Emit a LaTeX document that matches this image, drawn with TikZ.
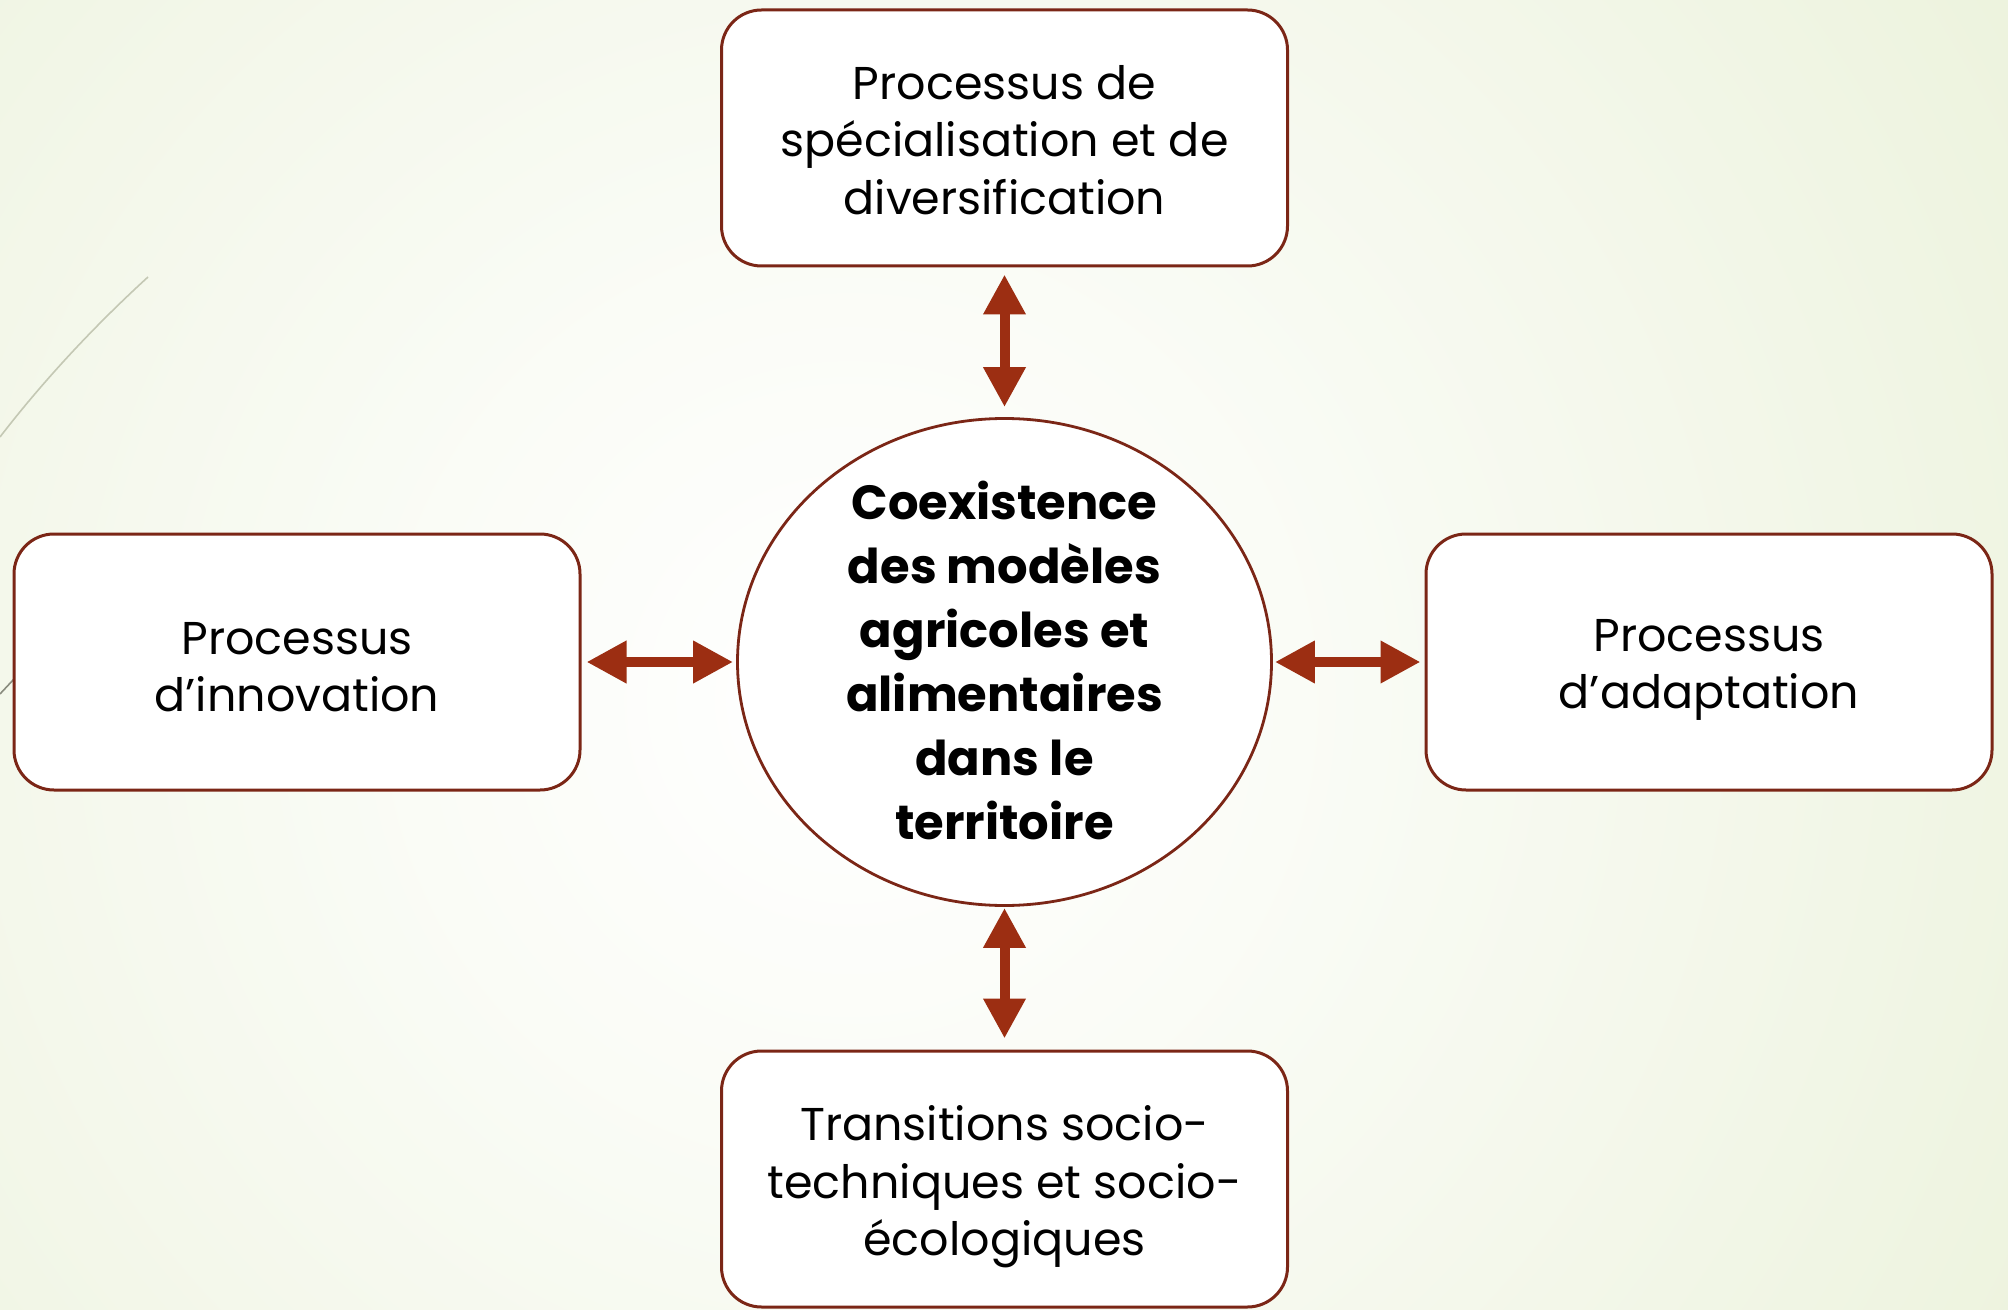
\documentclass[tikz,border=0pt]{standalone}
\usepackage{fontspec}
\setmainfont{Poppins}
\usetikzlibrary{shapes.geometric,arrows.meta}
\definecolor{bgg}{RGB}{222,233,195}
\definecolor{boxline}{RGB}{123,38,22}
\definecolor{arrowc}{RGB}{156,46,18}
\definecolor{deco}{RGB}{196,200,180}
\pgfdeclareradialshading{bgshade}{\pgfpoint{0bp}{0bp}}{color(0bp)=(white); color(8bp)=(white!85!bgg); color(30bp)=(white!30!bgg); color(50bp)=(bgg)}
\tikzset{
  procbox/.style={draw=boxline, line width=1.5pt, fill=white, rounded corners=20pt,
    minimum width=283pt, minimum height=128pt, inner sep=0pt},
  proctext/.style={align=center, inner sep=0pt, font=\fontsize{23}{28.8}\selectfont},
  centre/.style={draw=boxline, line width=1.4pt, fill=white, ellipse,
    minimum width=267pt, minimum height=243.5pt, inner sep=0pt},
  centretext/.style={align=center, inner sep=0pt,
    font=\fontsize{24}{32}\selectfont\bfseries},
  link/.style={draw=arrowc, line width=5pt, {Triangle[length=20pt,width=20pt]}-{Triangle[length=20pt,width=20pt]}}
}
\begin{document}
\begin{tikzpicture}[x=0.5pt,y=-0.5pt]
\useasboundingbox (0,0) rectangle (2008,1310);
\begin{scope}
\clip (0,0) rectangle (2008,1310);
\shade[shading=bgshade] (850,700) circle (1400);
\draw[deco, line width=0.8pt] (148,277) .. controls (90,330) and (40,385) .. (0,437);
\draw[deco!70!black, line width=0.8pt] (14,679) -- (0,694);
\end{scope}
\node[procbox] (top) at (1004.5,138) {};
\node[proctext] (toptext) at (1004.5,140) {Processus de\\spécialisation et de\\diversification};
\node[procbox] (left) at (297,662) {};
\node[proctext] (lefttext) at (297,667) {Processus\\d’innovation};
\node[procbox] (right) at (1709,662) {};
\node[proctext] (righttext) at (1709,670) {Processus\\d’adaptation};
\node[procbox] (bottom) at (1004.5,1179) {};
\node[proctext] (bottomtext) at (1004.5,1187) {Transitions socio-\\techniques et socio-\\écologiques};
\node[centre] (ell) at (1004.5,662) {};
\node[centretext] (ctext) at (1004.5,660.5) {Coexistence\\des modèles\\agricoles et\\alimentaires\\dans le\\territoire};
\draw[link, shorten <=3.5pt, shorten >=5pt] (top.south) -- (ell.north);
\draw[link, shorten <=2.5pt, shorten >=1.5pt] (left.east) -- (ell.west);
\draw[link, shorten <=1pt, shorten >=2pt] (ell.east) -- (right.west);
\draw[link, shorten <=0.5pt, shorten >=5.5pt] (ell.south) -- (bottom.north);
\end{tikzpicture}
\end{document}
